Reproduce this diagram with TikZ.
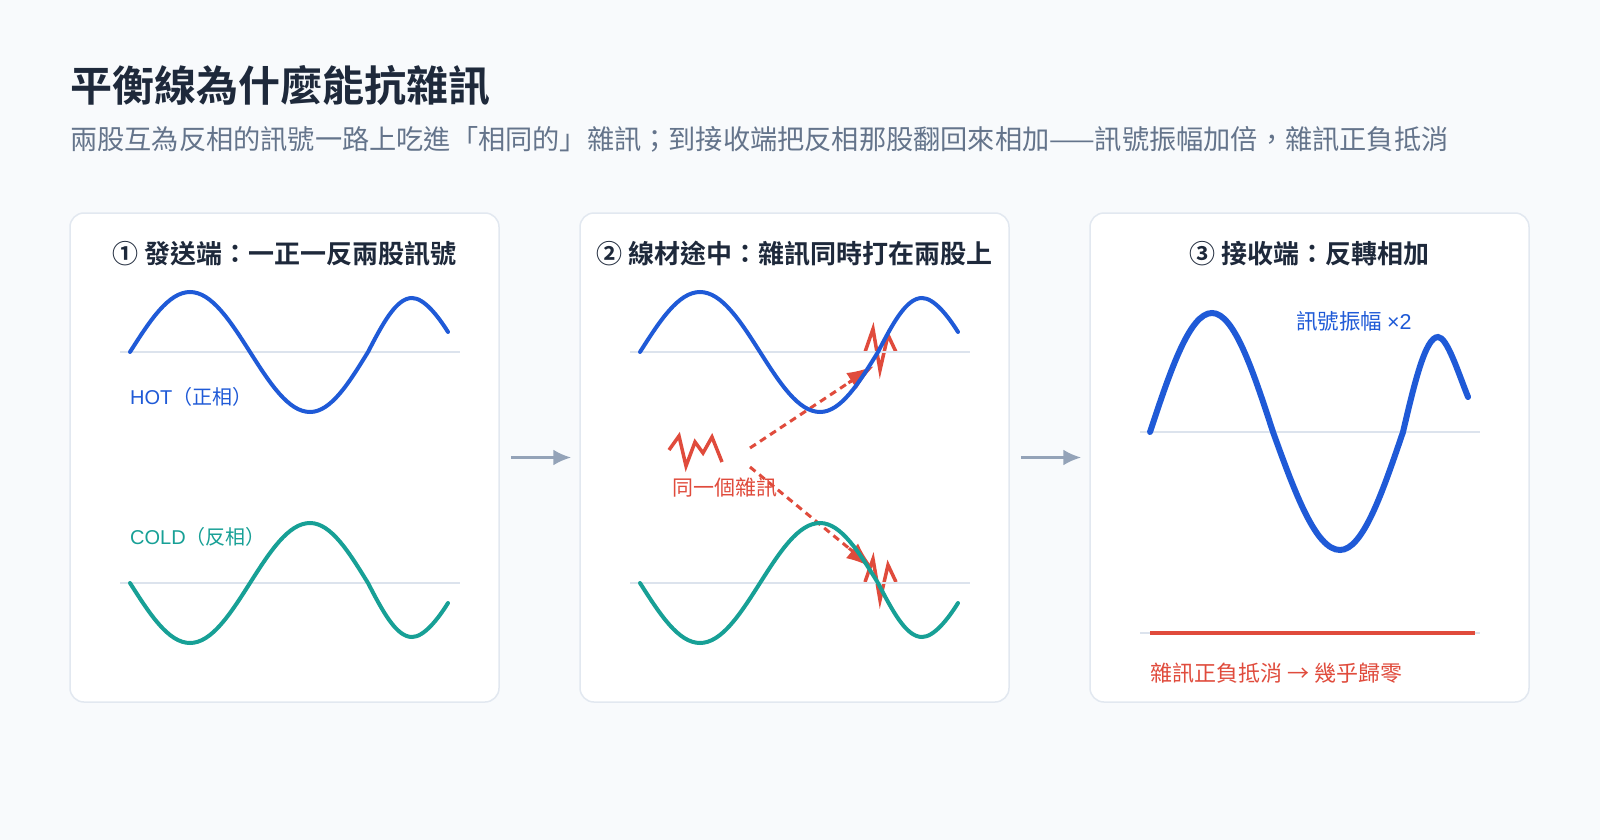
\documentclass[tikz,border=0pt]{standalone}
\usepackage{fontspec}
\setmainfont{Noto Sans CJK TC}[BoldFont={Noto Sans CJK TC Bold}]
\newfontfamily\latin{Liberation Sans}
\usetikzlibrary{arrows.meta,positioning}
\definecolor{bgc}{HTML}{F8FAFC}
\definecolor{edge}{HTML}{E2E8F0}
\definecolor{axisc}{HTML}{DCE3ED}
\definecolor{ink}{HTML}{1E293B}
\definecolor{muted}{HTML}{64748B}
\definecolor{hotc}{HTML}{1F5AD7}
\definecolor{coldc}{HTML}{17A096}
\definecolor{noise}{HTML}{E04B3C}
\definecolor{arrowc}{HTML}{94A3B8}

\begin{document}
\begin{tikzpicture}[x=1pt,y=-1pt,>=Latex,
  panel/.style={draw=edge,line width=1.5pt,fill=white,rounded corners=14pt,minimum width=429pt,minimum height=489pt},
  head/.style={inner sep=0pt,text=ink,font=\fontsize{26}{31}\selectfont\bfseries},
  lbl/.style={anchor=west,inner sep=0pt,font=\fontsize{20}{24}\selectfont},
  axis/.style={draw=axisc,line width=1.5pt},
  hot/.style={draw=hotc,line width=4pt,line cap=round},
  cold/.style={draw=coldc,line width=4pt,line cap=round},
  zap/.style={draw=noise,line width=3.5pt},
  hit/.style={draw=noise,line width=3pt,dash pattern=on 7pt off 5pt,shorten >=20pt},
  hittip/.style={draw=noise,fill=noise,line width=3pt,-{Latex[length=27pt,width=19pt]}},
  flow/.style={draw=arrowc,line width=3pt,-{Latex[length=18pt,width=16pt]}}]
  \fill[bgc] (0,0) rectangle (1600,840);

  % title
  \node[anchor=west,inner sep=0pt,text=ink,font=\fontsize{42}{49}\selectfont\bfseries] (title) at (70,86) {平衡線為什麼能抗雜訊};
  \node[anchor=west,inner sep=0pt,text=muted,font=\fontsize{27.2}{32}\selectfont] (sub) at (70,139) {兩股互為反相的訊號一路上吃進「相同的」雜訊；到接收端把反相那股翻回來相加——訊號振幅加倍，雜訊正負抵消};

  % panels
  \node[panel] (p1) at (284.5,457.5) {};
  \node[panel] (p2) at (794.5,457.5) {};
  \node[panel,minimum width=439pt] (p3) at (1309.5,457.5) {};
  \node[head] (h1) at (284.5,254) {① 發送端：一正一反兩股訊號};
  \node[head] (h2) at (794.5,254) {② 線材途中：雜訊同時打在兩股上};
  \node[head] (h3) at (1309.5,254) {③ 接收端：反轉相加};

  \draw[flow,shorten <=11pt,shorten >=8pt] (p1) -- (p2);
  \draw[flow,shorten <=11pt,shorten >=8pt] (p2) -- (p3);

  % noise hitting both wires
  \draw[zap] (669,450) -- (679,436) -- (686,466) -- (695,442) -- (703,453) -- (712,437) -- (722,462);
  \node[lbl,text=noise,font=\fontsize{21}{25}\selectfont] (same) at (672,487) {同一個雜訊};
  \coordinate (src1) at (750,448);
  \coordinate (hit1) at (874,366);
  \coordinate (src2) at (750,467);
  \coordinate (hit2) at (873,568);
  \draw[hit] (src1) -- (hit1);
  \draw[hit] (src2) -- (hit2);
  \draw[hittip,shorten <=118pt] (src1) -- (hit1);
  \draw[hittip,shorten <=128pt] (src2) -- (hit2);
  \draw[zap] (865,352) -- (873,329) -- (880,370) -- (888,335) -- (896,352);
  \draw[zap] (865,582) -- (873,559) -- (880,600) -- (888,565) -- (896,582);

  % the two wires, panels 1 and 2
  \foreach \dx in {0,510} {
    \begin{scope}[shift={(\dx,0)}]
      \draw[axis] (120,352) -- (460,352);
      \draw[axis] (120,583) -- (460,583);
      \draw[hot] (130,352) sin (190,292) cos (250,352) sin (310,412) cos (368,352) sin (412,298)
        .. controls (424,298) and (438,316) .. (448,332);
      \draw[cold] (130,583) sin (190,643) cos (250,583) sin (310,523) cos (368,583) sin (412,637)
        .. controls (424,637) and (438,619) .. (448,603);
    \end{scope}
  }
  \node[lbl,text=hotc] (hotl) at (130,397) {{\latin HOT}（正相）};
  \node[lbl,text=coldc] (coldl) at (130,537) {{\latin COLD}（反相）};

  % receiver
  \draw[axis] (1140,432) -- (1480,432);
  \draw[axis] (1140,633) -- (1480,633);
  \draw[hot,line width=6pt] (1150,432) sin (1212,313) cos (1273,432) sin (1340,550) cos (1403,432) sin (1438,337)
    .. controls (1447,337) and (1458,372) .. (1468,397);
  \draw[draw=noise,line width=4pt] (1150,633) -- (1475,633);
  \node[lbl,text=hotc,font=\fontsize{21.5}{25}\selectfont] (gain) at (1296,321) {訊號振幅 {\latin ×2}};
  \node[lbl,text=noise,font=\fontsize{22}{26}\selectfont] (zero) at (1150,673) {雜訊正負抵消 → 幾乎歸零};
\end{tikzpicture}
\end{document}
